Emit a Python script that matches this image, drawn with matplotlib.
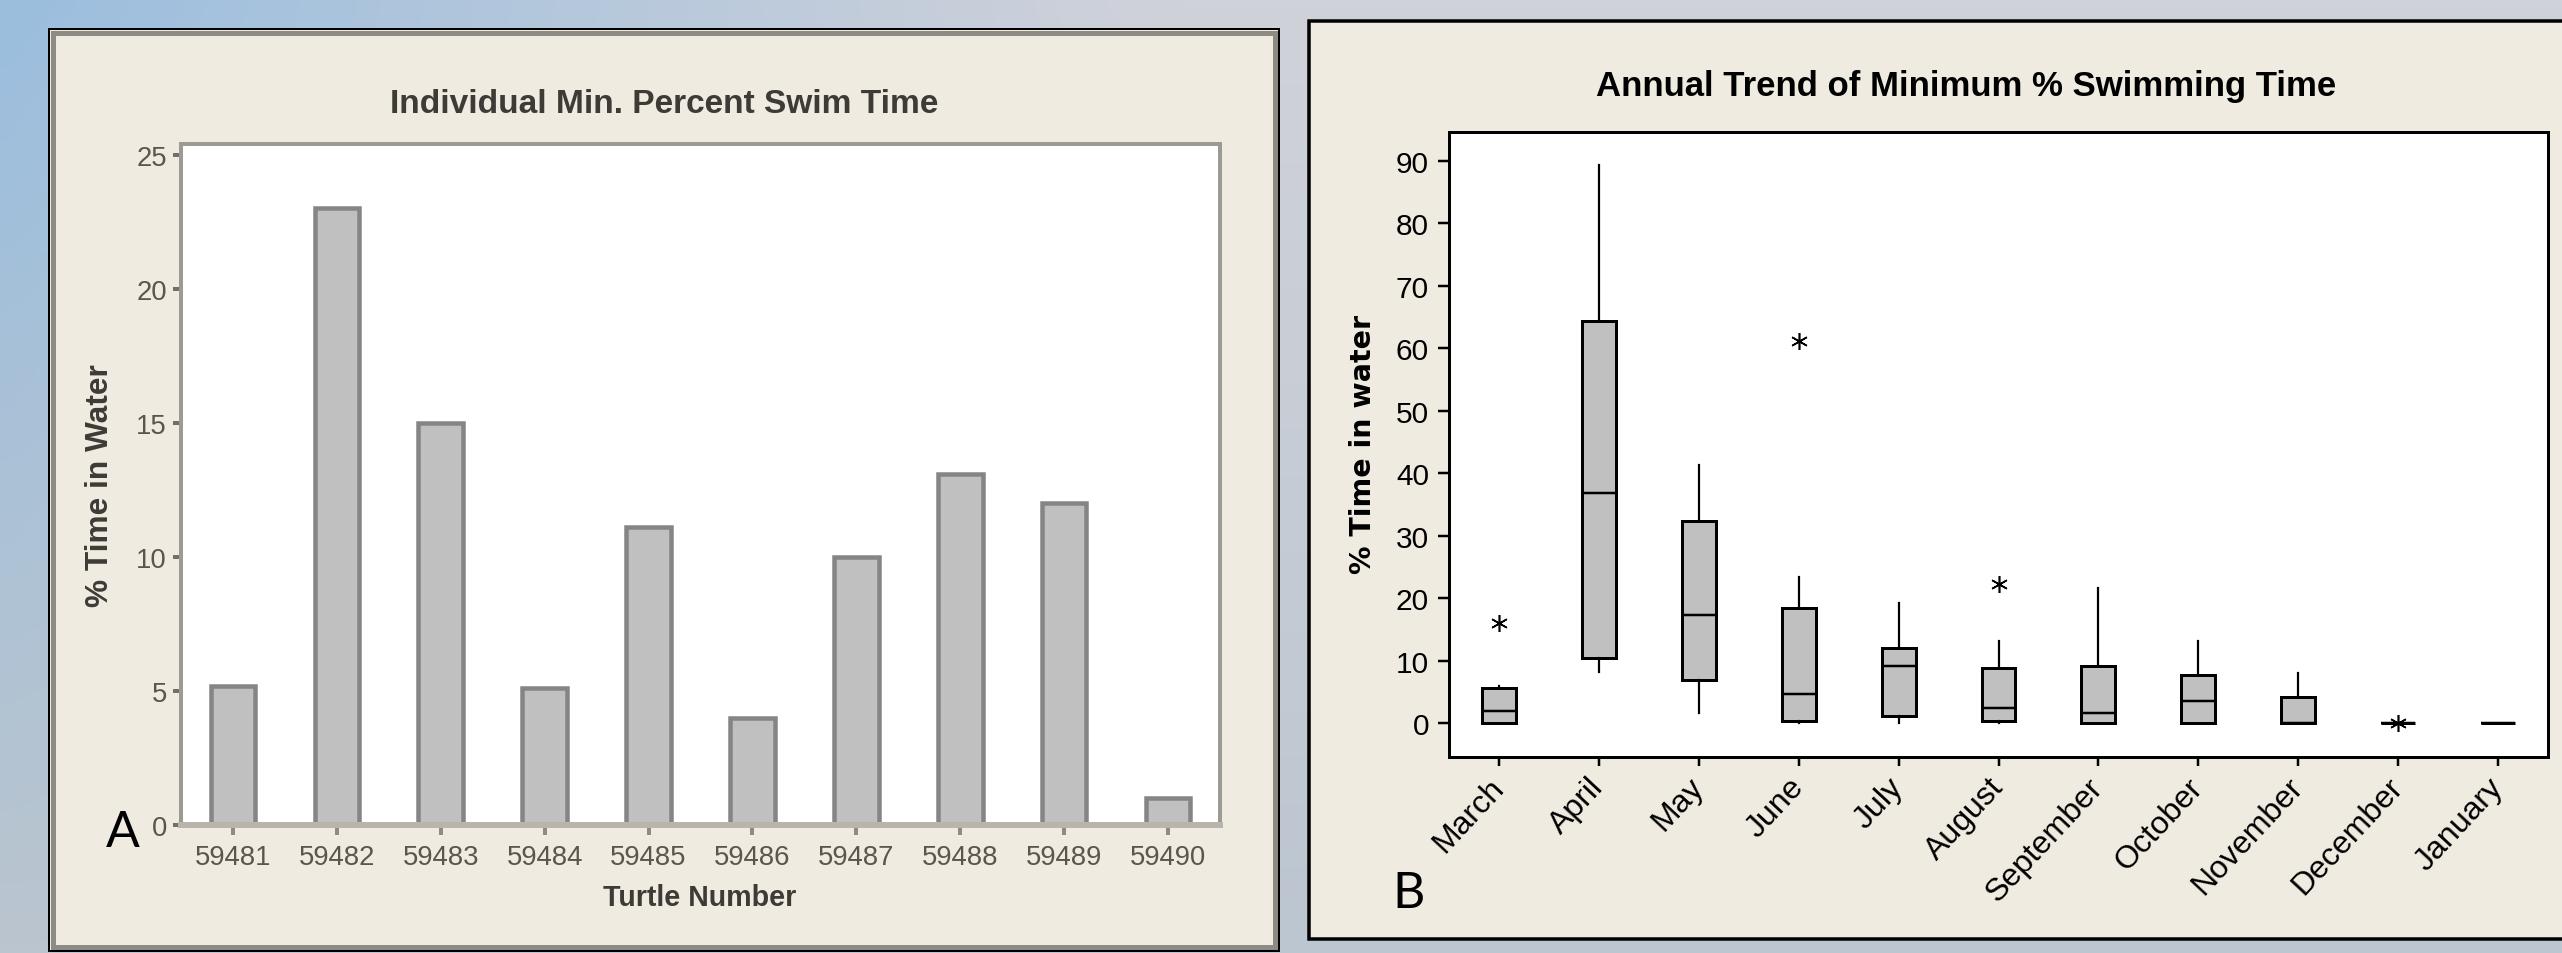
import matplotlib
matplotlib.use("Agg")
import matplotlib.pyplot as plt
import numpy as np
from matplotlib import font_manager
from matplotlib.patches import Rectangle

# Panel A: individual minimum percent swim time
turtles = ['59481', '59482', '59483', '59484', '59485',
           '59486', '59487', '59488', '59489', '59490']
min_swim = [5.2, 23.0, 15.0, 5.1, 11.1, 4.0, 10.0, 13.1, 12.0, 1.0]

# Panel B: monthly box plot summaries (% time in water)
months = ['March', 'April', 'May', 'June', 'July', 'August',
          'September', 'October', 'November', 'December', 'January']
q1 = [0.0, 10.4, 6.9, 0.4, 1.2, 0.4, 0.0, 0.0, 0.0, 0.0, 0.0]
med = [2.0, 36.8, 17.3, 4.7, 9.2, 2.4, 1.6, 3.5, 0.0, 0.0, 0.0]
q3 = [5.7, 64.3, 32.3, 18.5, 12.0, 8.8, 9.2, 7.8, 4.2, 0.0, 0.0]
whis_lo = [0.0, 8.2, 1.6, 0.0, 0.0, 0.0, 0.0, 0.0, 0.0, 0.0, 0.0]
whis_hi = [6.0, 89.4, 41.4, 23.4, 19.2, 13.1, 21.6, 13.1, 8.1, 0.0, 0.0]
outliers = [[16.0], [], [], [61.2], [], [22.3], [], [], [], [0.0], []]

W, H = 2562, 954
PT = 0.72  # points per pixel at dpi 100

installed = {f.name for f in font_manager.fontManager.ttflist}
has_narrow = 'Liberation Sans Narrow' in installed
narrow = 'Liberation Sans Narrow' if has_narrow else 'Liberation Sans'
k = 1.0 if has_narrow else 0.86   # shrink a bit when only the normal width exists
letter_font = 'Lato' if 'Lato' in installed else 'DejaVu Sans'

fig = plt.figure(figsize=(W / 100, H / 100), dpi=100)

# background: soft blue-grey gradient, drawn in pixel coordinates
bg = fig.add_axes([0, 0, 1, 1])
bg.set_xlim(0, W)
bg.set_ylim(H, 0)
bg.axis('off')
tl = np.array([155, 190, 222]) / 255
tr = np.array([208, 210, 218]) / 255
bl = np.array([186, 197, 207]) / 255
br = np.array([188, 198, 208]) / 255
u = np.linspace(0, 1, 120)[None, :, None]
v = np.linspace(0, 1, 60)[:, None, None]
u = np.clip(u * 2.2, 0, 1)
img = (1 - v) * ((1 - u) * tl + u * tr) + v * ((1 - u) * bl + u * br)
bg.imshow(img, extent=(0, W, H, 0), aspect='auto', interpolation='bilinear', zorder=0)

panel_bg = '#efebe0'
# left panel with sunken grey border
bg.add_patch(Rectangle((49, 30), 1230, 922, facecolor=panel_bg, edgecolor='black',
                       lw=2 * PT, zorder=1))
bg.add_patch(Rectangle((53, 34), 1222, 914, fill=False, edgecolor='#8e8b84',
                       lw=5 * PT, zorder=2))
# right panel (runs off the right edge)
bg.add_patch(Rectangle((1309, 22), 1300, 918, facecolor=panel_bg, edgecolor='black',
                       lw=3.5 * PT, zorder=1))

# ---------- Panel A ----------
ax1 = fig.add_axes([181 / W, 1 - 826 / H, (1220 - 181) / W, (826 - 145) / H])
ax1.set_facecolor('white')
x = np.arange(len(turtles))
ax1.bar(x, min_swim, width=0.43, color='#c0c0c0', edgecolor='#858585',
        linewidth=4.5 * PT, zorder=2)
ax1.set_xlim(-0.5, len(turtles) - 0.5)
ax1.set_ylim(0, 25.4)
ax1.set_yticks([0, 5, 10, 15, 20, 25])
ax1.set_xticks(x)
ax1.set_xticklabels(turtles)
for s in ['left', 'top', 'right']:
    ax1.spines[s].set_color('#9c9a93')
    ax1.spines[s].set_linewidth(4 * PT)
ax1.spines['bottom'].set_color('#bab5ab')
ax1.spines['bottom'].set_linewidth(6 * PT)
txt_col = '#5a554f'
ax1.tick_params(axis='x', length=10 * PT, width=4 * PT, color='#8e8b84', pad=9 * PT,
                labelsize=23 * k, labelcolor=txt_col)
ax1.tick_params(axis='y', length=8 * PT, width=4 * PT, color='#707070', pad=6 * PT,
                labelsize=23 * k, labelcolor=txt_col)
for lab in ax1.get_xticklabels() + ax1.get_yticklabels():
    lab.set_family(narrow)

bg.text(664, 113, 'Individual Min. Percent Swim Time', family=narrow, weight='bold',
        fontsize=28 * k, color='#3e3a36', ha='center', va='baseline', zorder=3)
bg.text(700, 906, 'Turtle Number', family=narrow, weight='bold', fontsize=24 * k,
        color='#3e3a36', ha='center', va='baseline', zorder=3)
bg.text(100, 486, '% Time in Water', family=narrow, weight='bold', fontsize=26.5 * k,
        color='#3e3a36', ha='center', va='center', rotation=90, zorder=3)
bg.text(106, 847, 'A', family=letter_font, fontsize=36, color='black',
        ha='left', va='baseline', zorder=3)

# ---------- Panel B ----------
ax2 = fig.add_axes([1449 / W, 1 - 758 / H, (2548 - 1449) / W, (758 - 133) / H])
ax2.set_facecolor('white')
stats = []
for i, m in enumerate(months):
    stats.append(dict(label=m, q1=q1[i], med=med[i], q3=q3[i],
                      whislo=whis_lo[i], whishi=whis_hi[i], fliers=outliers[i]))
ax2.bxp(stats, positions=np.arange(len(months)), widths=0.34, showcaps=False,
        patch_artist=True,
        boxprops=dict(facecolor='#c0c0c0', edgecolor='black', linewidth=3 * PT),
        medianprops=dict(color='black', linewidth=2.5 * PT),
        whiskerprops=dict(color='black', linewidth=2.2 * PT),
        flierprops=dict(marker=(6, 2, 0), markersize=17 * PT, markeredgecolor='black',
                        markeredgewidth=1.6 * PT, linestyle='none'))
ax2.set_xlim(-0.5, len(months) - 0.5)
ax2.set_ylim(-5.4, 94.6)
ax2.set_yticks(range(0, 91, 10))
ax2.set_xticks(np.arange(len(months)))
ax2.set_xticklabels(months, rotation=47, ha='right', va='center', rotation_mode='anchor')
for s in ax2.spines.values():
    s.set_color('black')
    s.set_linewidth(3 * PT)
ax2.tick_params(axis='y', length=11 * PT, width=2.5 * PT, pad=9 * PT, labelsize=25 * k)
ax2.tick_params(axis='x', length=9 * PT, width=2.5 * PT, pad=16 * PT, labelsize=23)
for lab in ax2.get_xticklabels() + ax2.get_yticklabels():
    lab.set_family(narrow)

bg.text(1966, 96, 'Annual Trend of Minimum % Swimming Time', family='Liberation Sans',
        weight='bold', fontsize=25, color='black', ha='center', va='baseline', zorder=3)
bg.text(1363, 445, '% Time in water', family='DejaVu Sans', weight='bold',
        fontsize=20.5, color='black', ha='center', va='center', rotation=90, zorder=3)
bg.text(1392, 908, 'B', family=letter_font, fontsize=36, color='black',
        ha='left', va='baseline', zorder=3)

fig.savefig('out.png', dpi=100)
